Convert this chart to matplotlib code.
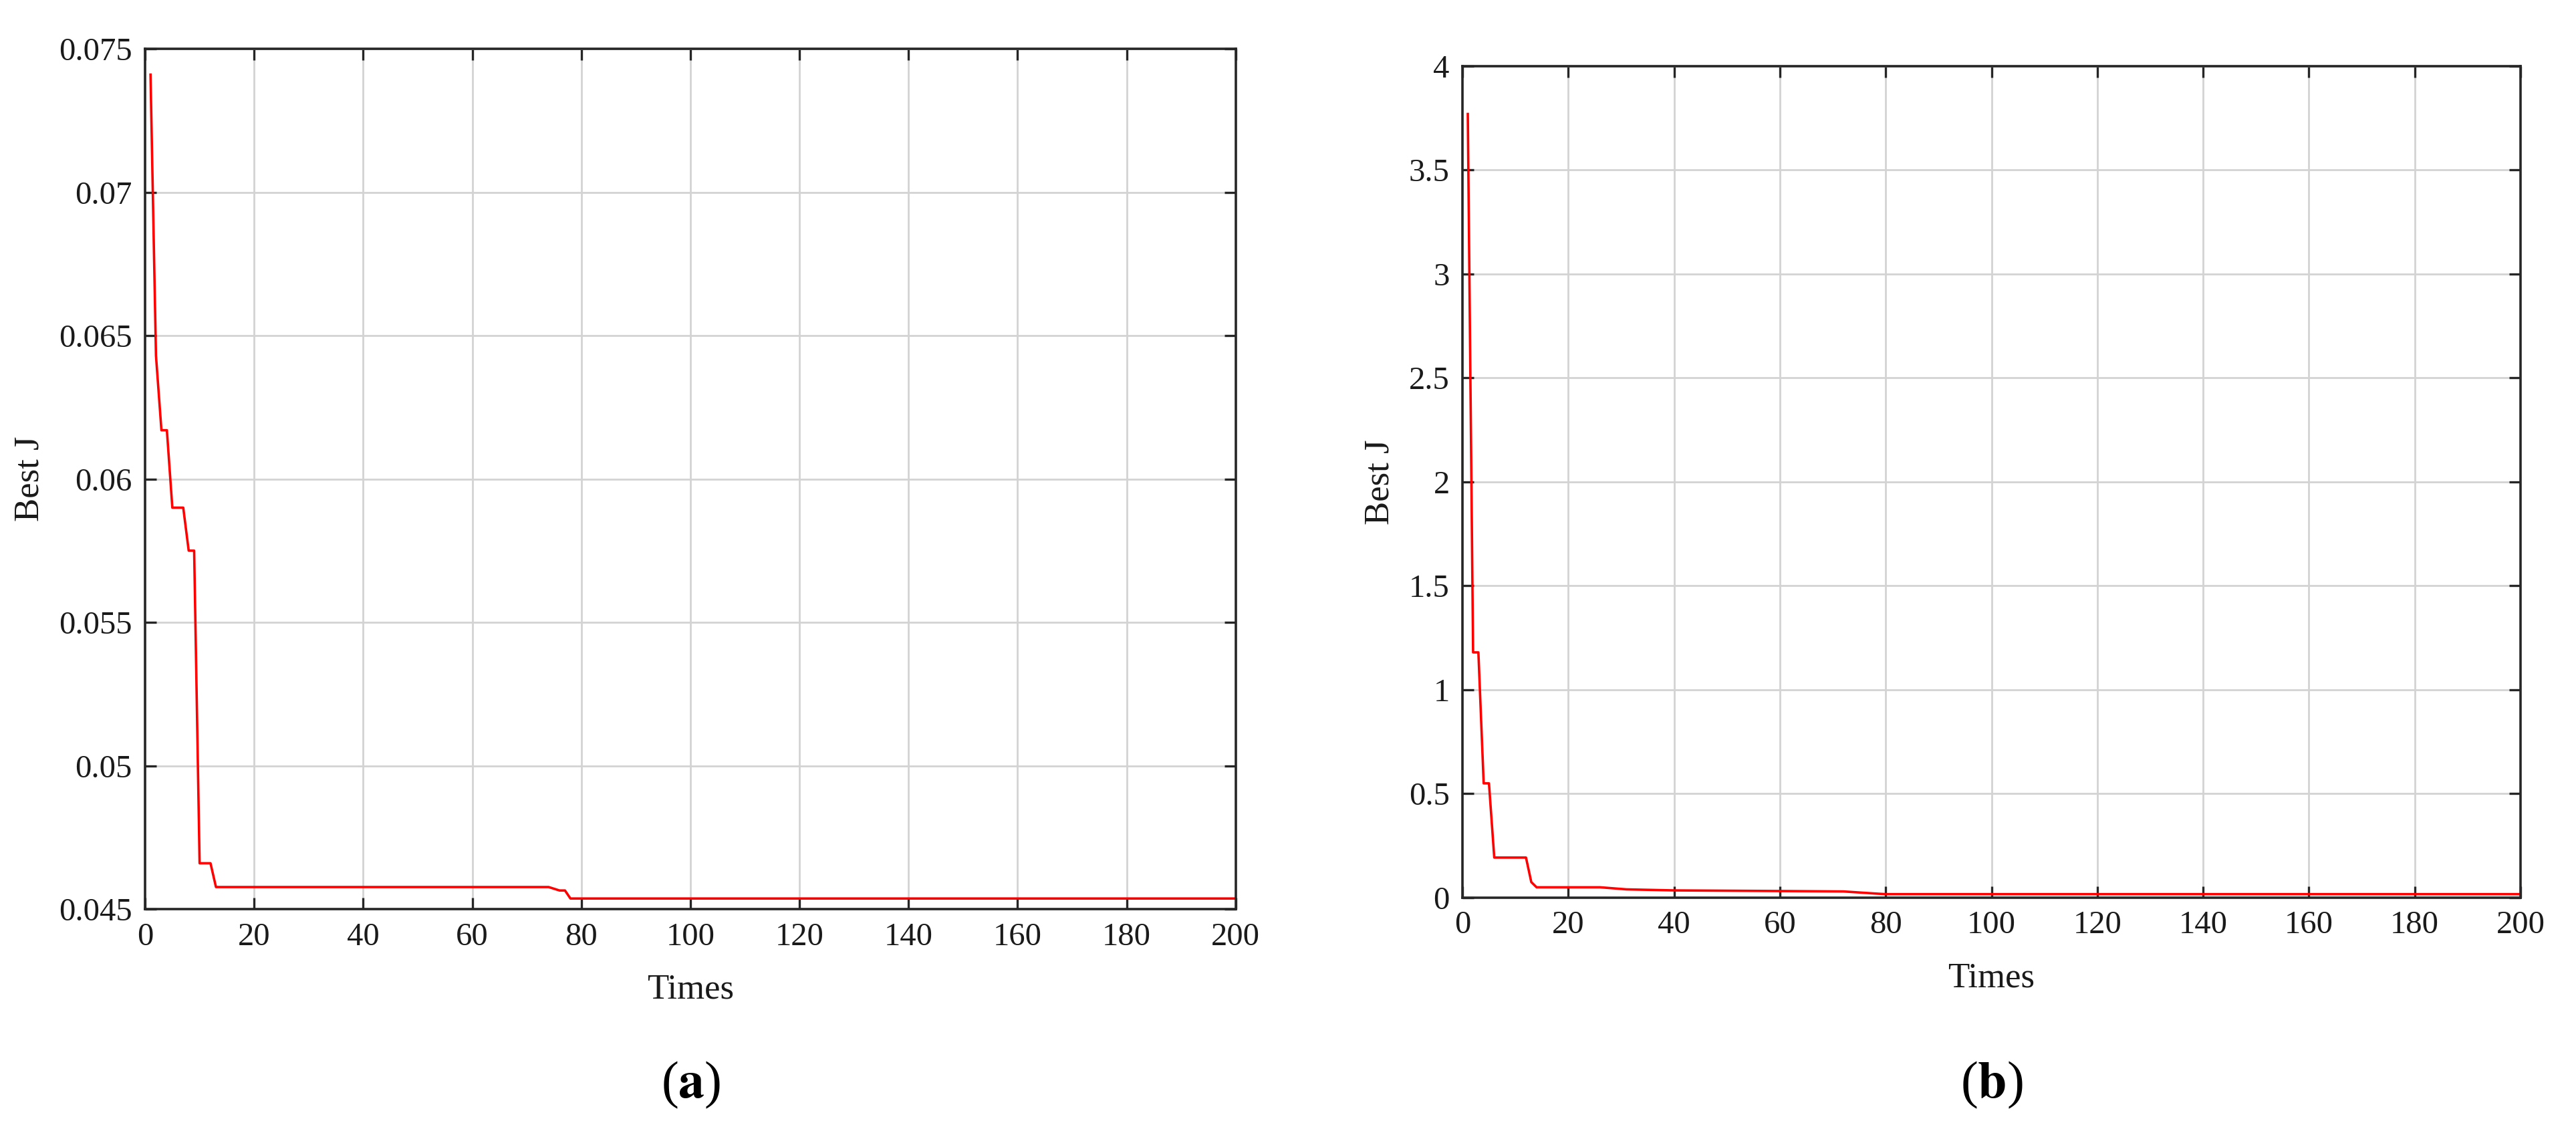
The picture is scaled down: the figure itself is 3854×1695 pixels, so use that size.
import matplotlib
matplotlib.use("Agg")
import matplotlib.pyplot as plt
from matplotlib.ticker import FuncFormatter


# (a) best J per iteration, vertices
times_a = [1, 2, 3, 4, 5, 7, 8, 9, 10, 12, 13, 74, 76, 77, 78, 200]
best_a = [0.0741, 0.0643, 0.0617, 0.0617, 0.0590, 0.0590, 0.0575, 0.0575,
          0.0466, 0.0466, 0.04577, 0.04577, 0.04565, 0.04565, 0.04537, 0.04537]

# (b) best J per iteration
times_b = [1, 2, 3, 4, 5, 6, 12, 13, 14, 26, 31, 40, 60, 72, 78, 80, 200]
best_b = [3.77, 1.18, 1.18, 0.55, 0.55, 0.193, 0.193, 0.075, 0.05, 0.05,
          0.04, 0.035, 0.032, 0.03, 0.02, 0.017, 0.017]

xticks = list(range(0, 201, 20))
yticks_a = [0.045, 0.05, 0.055, 0.06, 0.065, 0.07, 0.075]
yticks_b = [0, 0.5, 1, 1.5, 2, 2.5, 3, 3.5, 4]

plt.rcParams["font.family"] = ["Liberation Serif", "DejaVu Serif"]
plt.rcParams["mathtext.fontset"] = "stix"

fig = plt.figure(figsize=(38.55, 16.95), dpi=100)
ax_a = fig.add_axes([0.0563, 0.1976, 0.4233, 0.7593])
ax_b = fig.add_axes([0.5676, 0.2077, 0.4106, 0.7339])

fmt = FuncFormatter(lambda v, pos: "%g" % v)

for ax, xs, ys, yt in [(ax_a, times_a, best_a, yticks_a),
                       (ax_b, times_b, best_b, yticks_b)]:
    ax.plot(xs, ys, color="#ff0000", lw=2.6)
    ax.set_xlim(0, 200)
    ax.set_ylim(yt[0], yt[-1])
    ax.set_xticks(xticks)
    ax.set_yticks(yt)
    ax.yaxis.set_major_formatter(fmt)
    ax.grid(True, color="#d3d3d3", lw=2.0)
    ax.set_axisbelow(True)
    for sp in ax.spines.values():
        sp.set_linewidth(2.6)
        sp.set_color("#262626")
    ax.tick_params(direction="in", length=12, width=2.4, color="#262626",
                   top=True, right=True, labelsize=35, pad=14,
                   labelcolor="#1a1a1a")
    ax.set_xlabel("Times", fontsize=38, labelpad=24, color="#1a1a1a")
    ax.set_ylabel("Best J", fontsize=38, labelpad=14, color="#1a1a1a")

fig.text(0.268, 0.0425, r"($\mathbf{a}$)", fontsize=56, ha="center", va="center")
fig.text(0.773, 0.0425, r"($\mathbf{b}$)", fontsize=56, ha="center", va="center")

fig.savefig("out.png", dpi=100, facecolor="white")
